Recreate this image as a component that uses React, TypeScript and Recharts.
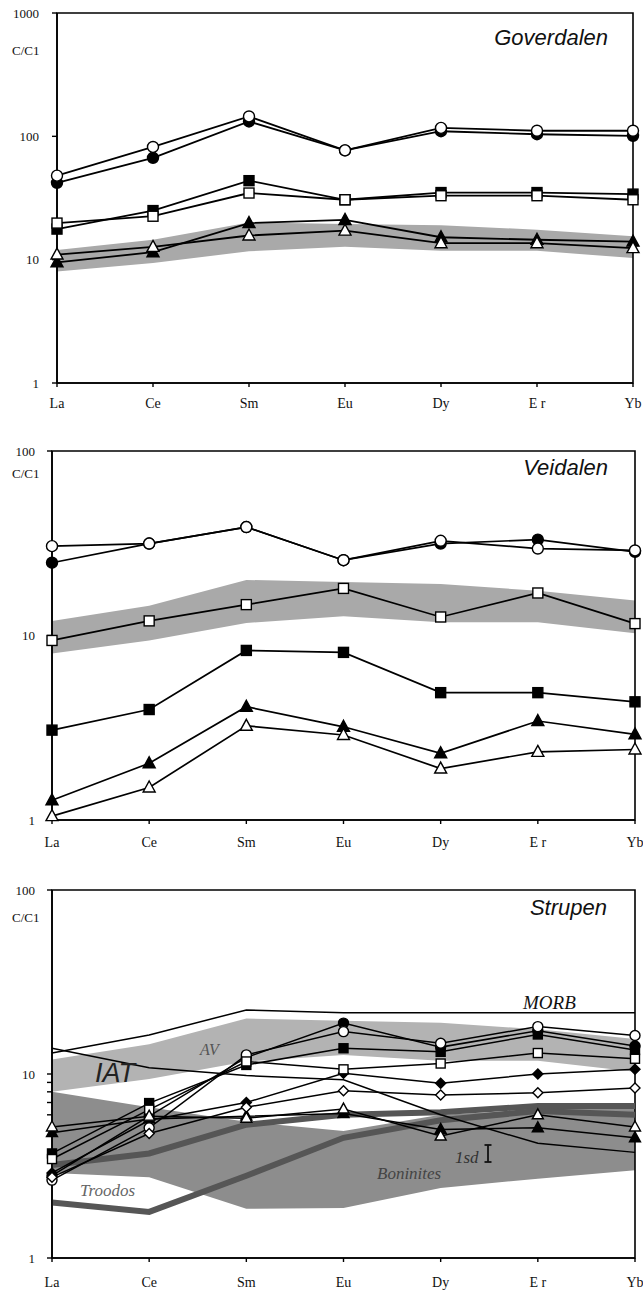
import React from "react";
import { ComposedChart, Line, Area, XAxis, YAxis, ReferenceArea } from "recharts";

const elements = ["La", "Ce", "Sm", "Eu", "Dy", "Er", "Yb"];
const elementLabels = ["La", "Ce", "Sm", "Eu", "Dy", "E r", "Yb"];

// grey field, same in all three panels
const fieldLow = [8, 9.4, 11.7, 12.7, 11.8, 11.8, 10.3];
const fieldHigh = [12, 14.5, 20, 19.5, 19, 17.5, 15.5];

// Goverdalen
const govFilledCircle = [42, 67, 132, 77, 110, 104, 101];
const govOpenCircle = [48, 82, 145, 77, 117, 111, 111];
const govFilledSquare = [17.7, 25, 43.7, 30.6, 35, 35, 34];
const govOpenSquare = [19.8, 22.5, 34.7, 30.6, 33, 33, 30.6];
const govFilledTri = [9.5, 11.5, 19.8, 21, 15.2, 14.5, 14];
const govOpenTri = [11, 12.7, 15.7, 17.2, 13.6, 13.6, 12.4];

// Veidalen
const veiFilledCircle = [24.8, 31.5, 38.7, 25.6, 31.5, 33.1, 28.4];
const veiOpenCircle = [30.5, 31.5, 38.7, 25.6, 32.6, 29.6, 28.9];
const veiOpenSquare = [9.4, 12, 14.7, 18, 12.6, 17, 11.6];
const veiFilledSquare = [3.07, 3.97, 8.3, 8.1, 4.9, 4.9, 4.37];
const veiFilledTri = [1.28, 2.03, 4.11, 3.2, 2.3, 3.44, 2.91];
const veiOpenTri = [1.05, 1.5, 3.24, 2.89, 1.9, 2.34, 2.41];

// Strupen
const boniLow = [2.9, 2.75, 1.85, 1.87, 2.4, 2.7, 3.0];
const boniHigh = [8.0, 6.6, 5.5, 4.9, 6.0, 6.4, 6.8];
const darkUpper = [3.2, 3.7, 5.3, 6.0, 6.2, 6.7, 6.7];
const troodos = [2.0, 1.78, 2.8, 4.5, 5.6, 6.3, 6.0];
const morb = [13.0, 16.3, 22.3, 21.5, 21.5, 21.5, 21.5];
const strPlain = [13.8, 10.8, 9.8, 9.3, 6.0, 4.2, 3.75];
const strFilledCircle = [2.8, 5.9, 12.3, 18.9, 14.0, 17.2, 14.2];
const strFilledSquare = [3.7, 6.95, 11.2, 13.8, 13.2, 16.4, 13.5];
const strFilledDiamond = [2.9, 5.6, 7.0, 10.1, 8.9, 10.0, 10.6];
const strFilledTri = [4.8, 5.7, 5.9, 6.1, 5.0, 5.1, 4.5];
const strOpenCircle = [2.65, 5.1, 12.7, 17.0, 14.7, 18.1, 16.2];
const strOpenSquare = [3.45, 6.4, 11.7, 10.6, 11.4, 13.0, 12.1];
const strOpenDiamond = [2.75, 4.75, 6.6, 8.1, 7.7, 7.9, 8.4];
const strOpenTri = [5.15, 5.9, 5.75, 6.45, 4.6, 6.0, 5.15];

const serif = "'Liberation Serif', 'DejaVu Serif', serif";
const sans = "'Liberation Sans', Arial, sans-serif";

type Shape = "circle" | "square" | "triangle" | "diamond";
type Series = { key: string; values: number[]; shape: Shape; filled: boolean };

function marker(shape: Shape, filled: boolean, size: number) {
  return (props: any) => {
    const { cx, cy, index } = props;
    const k = `m-${index}`;
    if (cx == null || cy == null) return <g key={k} />;
    const s = { fill: filled ? "#000" : "#fff", stroke: "#000", strokeWidth: 1.4 };
    const h = size / 2;
    if (shape === "circle") return <circle key={k} cx={cx} cy={cy} r={h} {...s} />;
    if (shape === "square")
      return <rect key={k} x={cx - h + 0.5} y={cy - h + 0.5} width={size - 1} height={size - 1} {...s} />;
    if (shape === "diamond")
      return <polygon key={k} points={`${cx},${cy - h} ${cx + h},${cy} ${cx},${cy + h} ${cx - h},${cy}`} {...s} />;
    return (
      <polygon
        key={k}
        points={`${cx},${cy - h - 1} ${cx + h + 0.5},${cy + h - 1} ${cx - h - 0.5},${cy + h - 1}`}
        {...s}
      />
    );
  };
}

const govSeries: Series[] = [
  { key: "fc", values: govFilledCircle, shape: "circle", filled: true },
  { key: "oc", values: govOpenCircle, shape: "circle", filled: false },
  { key: "fs", values: govFilledSquare, shape: "square", filled: true },
  { key: "os", values: govOpenSquare, shape: "square", filled: false },
  { key: "ft", values: govFilledTri, shape: "triangle", filled: true },
  { key: "ot", values: govOpenTri, shape: "triangle", filled: false },
];

const veiSeries: Series[] = [
  { key: "fc", values: veiFilledCircle, shape: "circle", filled: true },
  { key: "oc", values: veiOpenCircle, shape: "circle", filled: false },
  { key: "os", values: veiOpenSquare, shape: "square", filled: false },
  { key: "fs", values: veiFilledSquare, shape: "square", filled: true },
  { key: "ft", values: veiFilledTri, shape: "triangle", filled: true },
  { key: "ot", values: veiOpenTri, shape: "triangle", filled: false },
];

const strSeries: Series[] = [
  { key: "fc", values: strFilledCircle, shape: "circle", filled: true },
  { key: "fs", values: strFilledSquare, shape: "square", filled: true },
  { key: "fd", values: strFilledDiamond, shape: "diamond", filled: true },
  { key: "ft", values: strFilledTri, shape: "triangle", filled: true },
  { key: "oc", values: strOpenCircle, shape: "circle", filled: false },
  { key: "os", values: strOpenSquare, shape: "square", filled: false },
  { key: "od", values: strOpenDiamond, shape: "diamond", filled: false },
  { key: "ot", values: strOpenTri, shape: "triangle", filled: false },
];

function buildRows(series: Series[], extra: Record<string, any[]>) {
  return elements.map((el, i) => {
    const row: Record<string, any> = { el };
    series.forEach((s) => (row[s.key] = s.values[i]));
    Object.keys(extra).forEach((k) => (row[k] = extra[k][i]));
    return row;
  });
}

const govRows = buildRows(govSeries, { field: elements.map((_, i) => [fieldLow[i], fieldHigh[i]]) });
const veiRows = buildRows(veiSeries, { field: elements.map((_, i) => [fieldLow[i], fieldHigh[i]]) });
const strRows = buildRows(strSeries, {
  field: elements.map((_, i) => [fieldLow[i], fieldHigh[i]]),
  boni: elements.map((_, i) => [boniLow[i], boniHigh[i]]),
  darkUpper,
  troodos,
  morb,
  plain: strPlain,
});

type PanelProps = {
  top: number;
  height: number;
  plotTop: number;
  plotBottom: number;
  plotLeft: number;
  plotRight: number;
  domain: [number, number];
  ticks: number[];
  labelled: number[];
  rows: any[];
  series: Series[];
  markerSize: number;
  lineWidth: number;
  yTickMargin: number;
  xTickMargin: number;
  under: React.ReactNode[];
};

function Panel(p: PanelProps) {
  return (
    <div style={{ position: "absolute", left: 0, top: p.top, width: 643, height: p.height }}>
      <ComposedChart
        width={643}
        height={p.height}
        data={p.rows}
        margin={{ top: p.plotTop - p.top, right: 643 - p.plotRight, left: 0, bottom: 0 }}
      >
        <XAxis
          dataKey="el"
          scale="point"
          padding={{ left: 0, right: 0 }}
          interval={0}
          height={p.top + p.height - p.plotBottom}
          tickSize={4}
          tickMargin={p.xTickMargin}
          axisLine={{ stroke: "#000", strokeWidth: 1.6 }}
          tickLine={{ stroke: "#000", strokeWidth: 1.4 }}
          tick={{ fontFamily: serif, fontSize: 14, fill: "#111" }}
          tickFormatter={(v: string) => elementLabels[elements.indexOf(v)]}
        />
        <YAxis
          type="number"
          scale="log"
          domain={p.domain}
          ticks={p.ticks}
          interval={0}
          width={p.plotLeft}
          tickSize={5}
          tickMargin={p.yTickMargin}
          axisLine={{ stroke: "#000", strokeWidth: 1.6 }}
          tickLine={{ stroke: "#000", strokeWidth: 1.4 }}
          tick={{ fontFamily: serif, fontSize: 13, fill: "#111" }}
          tickFormatter={(v: number) => (p.labelled.includes(v) ? String(v) : "")}
        />
        {p.under}
        <ReferenceArea
          x1="La"
          x2="Yb"
          y1={p.domain[0]}
          y2={p.domain[1]}
          fill="none"
          stroke="#000"
          strokeWidth={1.6}
          ifOverflow="visible"
        />
        {p.series.map((s) => (
          <Line
            key={s.key}
            dataKey={s.key}
            type="linear"
            stroke="#000"
            strokeWidth={p.lineWidth}
            dot={marker(s.shape, s.filled, p.markerSize)}
            activeDot={false}
            isAnimationActive={false}
          />
        ))}
      </ComposedChart>
    </div>
  );
}

function Label(props: {
  text: string;
  left?: number;
  right?: number;
  cy: number;
  size: number;
  family?: string;
  italic?: boolean;
  color?: string;
}) {
  const style: React.CSSProperties = {
    position: "absolute",
    top: props.cy - props.size / 2,
    fontSize: props.size,
    lineHeight: 1,
    fontFamily: props.family || serif,
    fontStyle: props.italic ? "italic" : "normal",
    color: props.color || "#111",
    whiteSpace: "nowrap",
  };
  if (props.left != null) style.left = props.left;
  if (props.right != null) style.right = props.right;
  return <div style={style}>{props.text}</div>;
}

export default function App() {
  const fieldArea = (fill: string) => (
    <Area
      key="field"
      dataKey="field"
      type="linear"
      stroke="none"
      fill={fill}
      fillOpacity={1}
      dot={false}
      activeDot={false}
      isAnimationActive={false}
    />
  );

  return (
    <div
      style={{
        position: "absolute",
        left: 0,
        top: 0,
        width: 643,
        height: 1291,
        background: "#fff",
        overflow: "hidden",
      }}
    >
      <Panel
        top={0}
        height={425}
        plotTop={13}
        plotBottom={383}
        plotLeft={57}
        plotRight={633}
        domain={[1, 1000]}
        ticks={[1, 10, 100, 1000]}
        labelled={[1, 10, 100, 1000]}
        rows={govRows}
        series={govSeries}
        markerSize={11}
        lineWidth={1.8}
        yTickMargin={13}
        xTickMargin={11}
        under={[fieldArea("#a9a9a9")]}
      />
      <Panel
        top={425}
        height={440}
        plotTop={451}
        plotBottom={820}
        plotLeft={52}
        plotRight={635}
        domain={[1, 100]}
        ticks={[1, 10, 100]}
        labelled={[1, 10, 100]}
        rows={veiRows}
        series={veiSeries}
        markerSize={11}
        lineWidth={1.7}
        yTickMargin={12}
        xTickMargin={13}
        under={[fieldArea("#a9a9a9")]}
      />
      <Panel
        top={865}
        height={426}
        plotTop={890}
        plotBottom={1258}
        plotLeft={52}
        plotRight={635}
        domain={[1, 100]}
        ticks={[1, 5, 6, 7, 8, 9, 10, 100]}
        labelled={[1, 10, 100]}
        rows={strRows}
        series={strSeries}
        markerSize={10}
        lineWidth={1.5}
        yTickMargin={12}
        xTickMargin={15}
        under={[
          <Area
            key="boni"
            dataKey="boni"
            type="linear"
            stroke="none"
            fill="#8d8d8d"
            fillOpacity={1}
            dot={false}
            activeDot={false}
            isAnimationActive={false}
          />,
          fieldArea("#b3b3b3"),
          <Line
            key="darkUpper"
            dataKey="darkUpper"
            type="linear"
            stroke="#565656"
            strokeWidth={6}
            dot={false}
            activeDot={false}
            isAnimationActive={false}
          />,
          <Line
            key="troodos"
            dataKey="troodos"
            type="linear"
            stroke="#565656"
            strokeWidth={6}
            dot={false}
            activeDot={false}
            isAnimationActive={false}
          />,
          <Line
            key="morb"
            dataKey="morb"
            type="linear"
            stroke="#000"
            strokeWidth={1.5}
            dot={false}
            activeDot={false}
            isAnimationActive={false}
          />,
          <Line
            key="plain"
            dataKey="plain"
            type="linear"
            stroke="#000"
            strokeWidth={1.5}
            dot={false}
            activeDot={false}
            isAnimationActive={false}
          />,
        ]}
      />

      {/* y axis caption and panel titles */}
      <Label text="C/C1" left={12} cy={50} size={13} />
      <Label text="C/C1" left={12} cy={473} size={13} />
      <Label text="C/C1" left={12} cy={917} size={13} />
      <Label text="Goverdalen" right={35} cy={38} size={22} family={sans} italic />
      <Label text="Veidalen" right={35} cy={468} size={22} family={sans} italic />
      <Label text="Strupen" right={36} cy={908} size={22} family={sans} italic />

      {/* field names in the Strupen panel */}
      <Label text="MORB" left={523} cy={1002} size={19} italic />
      <Label text="AV" left={200} cy={1050} size={16} italic color="#555" />
      <Label text="IAT" left={95} cy={1073} size={27} family={sans} italic color="#222" />
      <Label text="Troodos" left={80} cy={1190} size={17} italic color="#666" />
      <Label text="Boninites" left={377} cy={1173} size={17} italic color="#444" />
      <Label text="1sd" left={455} cy={1157} size={17} italic color="#333" />
      <svg style={{ position: "absolute", left: 483, top: 1143 }} width={10} height={22}>
        <line x1={5} y1={2} x2={5} y2={19} stroke="#111" strokeWidth={1.8} />
        <line x1={1.5} y1={2} x2={8.5} y2={2} stroke="#111" strokeWidth={1.8} />
        <line x1={1.5} y1={19} x2={8.5} y2={19} stroke="#111" strokeWidth={1.8} />
      </svg>
    </div>
  );
}
